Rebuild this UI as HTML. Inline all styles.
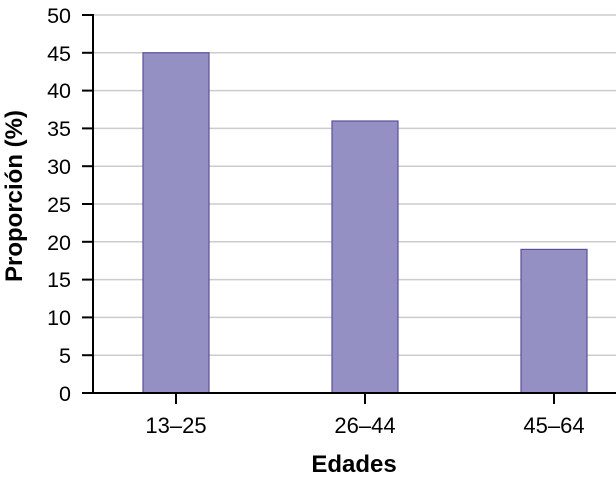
<!DOCTYPE html><html><head><style>body{margin:0;background:#fff}</style></head><body>
<svg width="616" height="481" xmlns="http://www.w3.org/2000/svg" font-family="Liberation Sans, sans-serif">
<g stroke="#ccc" stroke-width="1.5">
<line x1="93" x2="616" y1="15" y2="15"/><line x1="93" x2="616" y1="52.8" y2="52.8"/><line x1="93" x2="616" y1="90.6" y2="90.6"/><line x1="93" x2="616" y1="128.4" y2="128.4"/><line x1="93" x2="616" y1="166.2" y2="166.2"/><line x1="93" x2="616" y1="204" y2="204"/><line x1="93" x2="616" y1="241.8" y2="241.8"/><line x1="93" x2="616" y1="279.6" y2="279.6"/><line x1="93" x2="616" y1="317.4" y2="317.4"/><line x1="93" x2="616" y1="355.2" y2="355.2"/>
</g>
<g fill="#9590c4" stroke="#5a4e9a" stroke-width="1.2">
<rect x="143" y="52.8" width="66" height="340.2"/>
<rect x="332" y="121" width="66" height="272"/>
<rect x="521" y="249.4" width="66" height="143.6"/>
</g>
<g stroke="#000" stroke-width="2">
<line x1="93" x2="93" y1="14" y2="393"/><line x1="82" x2="616" y1="393" y2="393"/>
<line x1="82" x2="93" y1="15" y2="15"/><line x1="82" x2="93" y1="52.8" y2="52.8"/><line x1="82" x2="93" y1="90.6" y2="90.6"/><line x1="82" x2="93" y1="128.4" y2="128.4"/><line x1="82" x2="93" y1="166.2" y2="166.2"/><line x1="82" x2="93" y1="204" y2="204"/><line x1="82" x2="93" y1="241.8" y2="241.8"/><line x1="82" x2="93" y1="279.6" y2="279.6"/><line x1="82" x2="93" y1="317.4" y2="317.4"/><line x1="82" x2="93" y1="355.2" y2="355.2"/>
<line x1="176" x2="176" y1="393" y2="404"/><line x1="365" x2="365" y1="393" y2="404"/><line x1="554" x2="554" y1="393" y2="404"/>
</g>
<g font-size="21.5" text-anchor="end" fill="#000">
<text x="71" y="23">50</text><text x="71" y="61">45</text><text x="71" y="98">40</text><text x="71" y="136">35</text><text x="71" y="174">30</text><text x="71" y="212">25</text><text x="71" y="250">20</text><text x="71" y="287">15</text><text x="71" y="325">10</text><text x="71" y="363">5</text><text x="71" y="401">0</text>
</g>
<g font-size="22" text-anchor="middle">
<text x="176" y="433">13–25</text><text x="365" y="433">26–44</text><text x="554" y="433">45–64</text>
<text x="354" y="472" font-weight="bold" font-size="24">Edades</text>
<text transform="translate(22,196) rotate(-90)" font-weight="bold" font-size="24">Proporción (%)</text>
</g>
</svg></body></html>
